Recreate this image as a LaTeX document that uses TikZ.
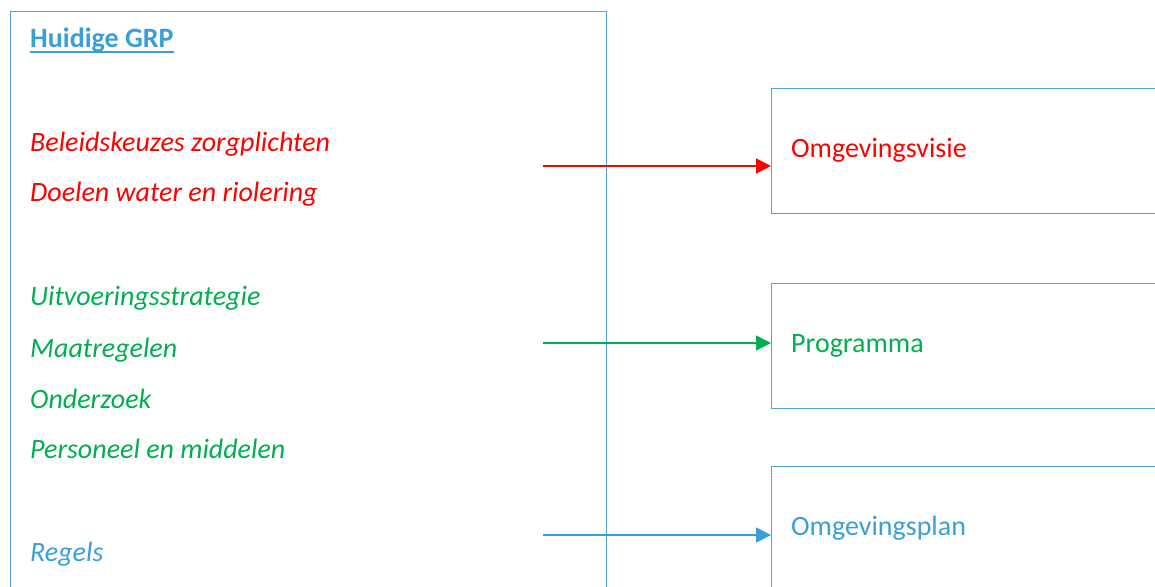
\documentclass[tikz,border=0pt]{standalone}
\usepackage{fontspec}
\setmainfont{Carlito}
\usetikzlibrary{arrows.meta}
\definecolor{cred}{HTML}{FF0000}
\definecolor{cgreen}{HTML}{00B050}
\definecolor{cblue}{HTML}{3A9FD8}
\definecolor{cline}{HTML}{4DA6DA}
\tikzset{
  frame/.style={draw=cline, line width=1.3pt, inner sep=0pt, anchor=north west},
  lefttxt/.style={anchor=base west, inner sep=0pt, font=\fontsize{28}{33}\selectfont\itshape},
  righttxt/.style={anchor=base west, inner sep=0pt, font=\fontsize{28}{33}\selectfont},
  conn/.style={line width=1.6pt, -{Triangle[length=15pt,width=15pt]}},
}
\begin{document}
\begin{tikzpicture}[x=1pt,y=-1pt]
\useasboundingbox[fill=white] (0,0) rectangle (1155,586);
\clip (0,0) rectangle (1155,586);
% left frame
\node[frame, minimum width=596.5pt, minimum height=640pt] (grp) at (9.5,11) {};
% right frames
\node[frame, minimum width=420pt, minimum height=125pt] (visie) at (771,88) {};
\node[frame, minimum width=420pt, minimum height=125pt] (prog) at (771,283) {};
\node[frame, minimum width=420pt, minimum height=200pt] (plan) at (771,466) {};
% title
\node[anchor=base west, inner sep=0pt, text=cblue, font=\fontsize{28}{33}\selectfont\bfseries] (title) at (30,48) {Huidige GRP};
\draw[cblue, line width=2pt] ([yshift=-4.5pt]title.base west) -- ([yshift=-4.5pt]title.base east);
% left texts
\node[lefttxt, text=cred] (t1) at (30,151) {Beleidskeuzes zorgplichten};
\node[lefttxt, text=cred] (t2) at (30,201) {Doelen water en riolering};
\node[lefttxt, text=cgreen] (t3) at (30,305) {Uitvoeringsstrategie};
\node[lefttxt, text=cgreen] (t4) at (30,357) {Maatregelen};
\node[lefttxt, text=cgreen] (t5) at (30,408) {Onderzoek};
\node[lefttxt, text=cgreen] (t6) at (30,458) {Personeel en middelen};
\node[lefttxt, text=cblue] (t7) at (30,561) {Regels};
% right texts
\node[righttxt, text=cred] (r1) at (791,157) {Omgevingsvisie};
\node[righttxt, text=cgreen] (r2) at (791,352) {Programma};
\node[righttxt, text=cblue] (r3) at (791,535) {Omgevingsplan};
% connectors
\coordinate (s1) at (543,166);
\coordinate (s2) at (543,343);
\coordinate (s3) at (543,535);
\draw[conn, draw=cred, fill=cred] (s1) -- (s1 -| visie.west);
\draw[conn, draw=cgreen, fill=cgreen] (s2) -- (s2 -| prog.west);
\draw[conn, draw=cblue, fill=cblue] (s3) -- (s3 -| plan.west);
\end{tikzpicture}
\end{document}
